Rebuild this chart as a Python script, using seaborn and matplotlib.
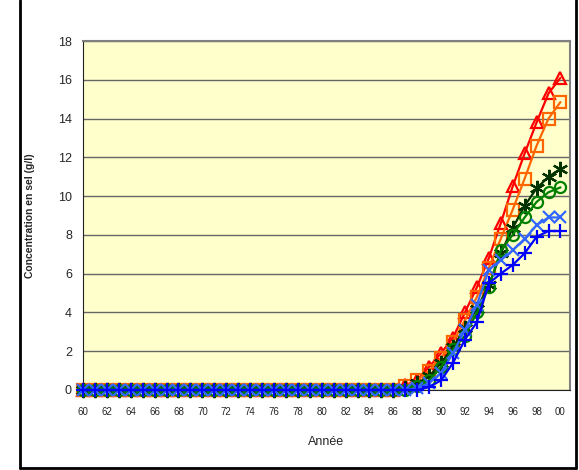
import numpy as np
import pandas as pd
import matplotlib
matplotlib.use('Agg')
import matplotlib.pyplot as plt
from matplotlib.lines import Line2D
import seaborn as sns

sns.set_style('white')
plt.rcParams['font.family'] = ['Liberation Sans', 'DejaVu Sans']

# données (1960-2000)
annees = list(range(1960, 2001))
zeros_avant = [0.0] * 27  # 1960-1986 : concentration nulle

rouge = zeros_avant + [0.25, 0.5, 1.2, 1.9, 2.7, 4.0, 5.3, 6.8, 8.6, 10.5, 12.2, 13.8, 15.3, 16.1]
orange = zeros_avant + [0.2, 0.5, 1.0, 1.65, 2.5, 3.6, 4.8, 6.3, 7.8, 9.3, 10.9, 12.6, 14.0, 14.85]
vert_fonce = zeros_avant + [0.1, 0.35, 0.7, 1.4, 2.2, 3.2, 4.2, 5.4, 7.05, 8.35, 9.5, 10.4, 11.0, 11.4]
vert = zeros_avant + [0.0, 0.2, 0.5, 1.2, 2.1, 2.8, 4.0, 5.3, 7.2, 8.0, 8.9, 9.7, 10.2, 10.45]
bleu_clair = zeros_avant + [0.0, 0.1, 0.35, 0.9, 1.9, 3.1, 4.4, 6.2, 6.7, 7.2, 7.8, 8.5, 8.9, 8.9]
bleu = zeros_avant + [0.0, 0.0, 0.15, 0.5, 1.4, 2.6, 3.5, 5.5, 6.0, 6.45, 7.05, 7.9, 8.2, 8.2]

series = [
    ('rouge', rouge, '#FF0000', '^', 9),
    ('orange', orange, '#FF6600', 's', 8),
    ('vert fonce', vert_fonce, '#003300', (6, 2, 0), 11),
    ('vert', vert, '#008000', 'o', 8),
    ('bleu clair', bleu_clair, '#3366FF', 'x', 8),
    ('bleu', bleu, '#0000FF', '+', 10),
]

fig = plt.figure(figsize=(5.79, 4.70), dpi=100)
ax = fig.add_axes([83 / 579, 1 - 390 / 470, (570 - 83) / 579, (390 - 41) / 470])
ax.set_facecolor('#FFFFCC')

for nom, valeurs, couleur, marqueur, taille in series:
    df = pd.DataFrame({'annee': annees, 'conc': valeurs})
    sns.lineplot(data=df, x='annee', y='conc', ax=ax, color=couleur, marker=marqueur,
                 markersize=taille, markerfacecolor='none', markeredgecolor=couleur,
                 markeredgewidth=1.6, linewidth=1.6, clip_on=False, zorder=3)

ax.set_xlim(1960, 2000.8)
ax.set_ylim(0, 18)
ax.set_yticks(np.arange(0, 19, 2))
ax.set_yticklabels([str(v) for v in range(0, 19, 2)], fontsize=9)
ax.set_xticks(annees[::2])
ax.set_xticklabels(['%02d' % (a % 100) for a in annees[::2]], fontsize=7)
ax.tick_params(axis='y', direction='out', length=5, width=1, color='#222222', pad=3)
ax.tick_params(axis='x', direction='out', length=4, width=1, color='#222222', pad=8)
ax.grid(axis='y', color='#666666', linewidth=1)
ax.grid(axis='x', visible=False)

for cote in ['top', 'right']:
    ax.spines[cote].set_color('#808080')
    ax.spines[cote].set_linewidth(1.5)
ax.spines['left'].set_color('#222222')
ax.spines['bottom'].set_color('#222222')

ax.set_xlabel('Année', fontsize=9, labelpad=14)
ax.set_ylabel('Concentration en sel (g/l)', fontsize=7.5, fontweight='bold')
ax.yaxis.set_label_coords((35 - 83) / 487, 0.5)

# cadre autour du graphique
W, H = 579, 470
for (x0, y0, x1, y1) in [(20, 0, 20, 468), (20, 468, 576, 468), (576, 0, 576, 468)]:
    fig.add_artist(Line2D([x0 / W, x1 / W], [1 - y0 / H, 1 - y1 / H], color='black', linewidth=2))

fig.savefig('out.png', dpi=100)
